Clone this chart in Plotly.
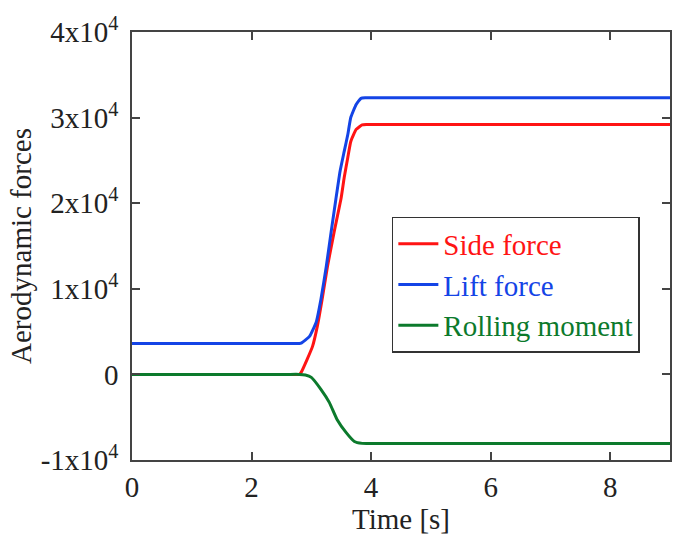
import plotly.graph_objects as go

# Time samples [s] and aerodynamic responses
t_lift = [0, 1.0, 2.0, 2.6, 2.80, 2.83, 2.97, 3.08, 3.16, 3.25, 3.33, 3.41, 3.48, 3.55, 3.61,
          3.66, 3.75, 3.83, 3.90, 4.1, 5.0, 7.0, 9.0]
lift_force = [3620, 3620, 3620, 3620, 3620, 3650, 4440, 6070, 8760, 12610, 16590, 20440, 23710,
              26050, 28030, 30020, 31540, 32250, 32320, 32320, 32320, 32320, 32320]

t_side = [0, 1.0, 2.0, 2.6, 2.80, 2.83, 2.93, 3.02, 3.10, 3.18, 3.27, 3.38, 3.50, 3.55, 3.61,
          3.66, 3.75, 3.85, 3.92, 4.1, 5.0, 7.0, 9.0]
side_force = [0, 0, 0, 0, 0, 230, 1750, 3270, 5610, 8760, 12610, 16590, 20670, 23010, 25350,
              27210, 28620, 29150, 29200, 29200, 29200, 29200, 29200]

t_roll = [0, 1.0, 2.0, 2.6, 2.80, 2.90, 3.00, 3.16, 3.30, 3.43, 3.58, 3.72, 3.85, 3.92, 4.1,
          5.0, 7.0, 9.0]
rolling_moment = [0, 0, 0, 0, 0, -80, -350, -1750, -3270, -5260, -6770, -7830, -8060, -8080,
                  -8080, -8080, -8080, -8080]

x_ticks = [0, 2, 4, 6, 8]
y_ticks = [-10000, 0, 10000, 20000, 30000, 40000]
y_labels = ["-1x10<sup>4</sup>", "0", "1x10<sup>4</sup>", "2x10<sup>4</sup>",
            "3x10<sup>4</sup>", "4x10<sup>4</sup>"]

RED = "#ff1414"
BLUE = "#1444e6"
GREEN = "#0c7a2c"
FONT = "Liberation Serif"
FS = 29

fig = go.Figure()
for t, v, col, label in [(t_side, side_force, RED, "Side force"),
                         (t_lift, lift_force, BLUE, "Lift force"),
                         (t_roll, rolling_moment, GREEN, "Rolling moment")]:
    fig.add_trace(go.Scatter(x=t, y=v, mode="lines",
                             line=dict(color=col, width=3, shape="spline", smoothing=0.4),
                             name=f"<span style='color:{col}'>{label}</span>"))

axis_common = dict(showline=True, linecolor="#444", linewidth=1.5, mirror="ticks",
                   ticks="inside", ticklen=8, tickcolor="#444", tickwidth=1.5,
                   showgrid=False, zeroline=False,
                   tickfont=dict(family=FONT, size=FS, color="#222"))

fig.update_xaxes(range=[0, 9], tickvals=x_ticks,
                 title=dict(text="Time [s]", font=dict(family=FONT, size=FS, color="#222"),
                            standoff=4),
                 **axis_common)
fig.update_yaxes(range=[-10000, 40000], tickvals=y_ticks, ticktext=y_labels,
                 ticklabelstandoff=6,
                 title=dict(text="Aerodynamic forces", font=dict(family=FONT, size=FS, color="#222"),
                            standoff=0),
                 **axis_common)

fig.update_layout(
    width=673, height=535,
    margin=dict(l=132, r=1, t=32, b=75),
    plot_bgcolor="white", paper_bgcolor="white",
    font=dict(family=FONT, size=FS, color="#222"),
    legend=dict(x=0.483, y=0.568, xanchor="left", yanchor="top",
                bordercolor="#333", borderwidth=1.5, bgcolor="white",
                font=dict(family=FONT, size=FS), itemwidth=40,
                tracegroupgap=0),
    showlegend=True,
)

fig.write_html("out.html")
